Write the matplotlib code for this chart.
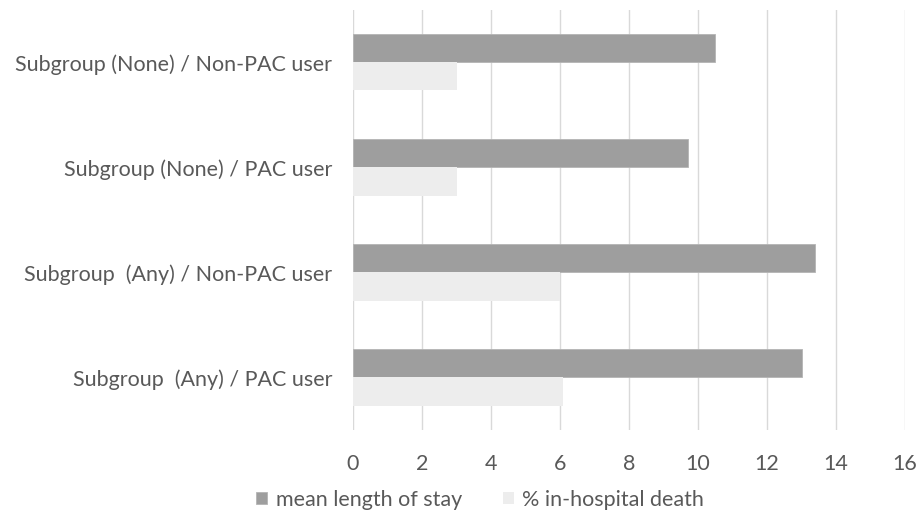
import matplotlib
matplotlib.use("Agg")
import matplotlib.pyplot as plt
import numpy as np

plt.rcParams['font.family'] = ['Lato', 'DejaVu Sans']

categories = [
    "Subgroup (None) / Non-PAC user",
    "Subgroup (None) / PAC user",
    "Subgroup  (Any) / Non-PAC user",
    "Subgroup  (Any) / PAC user",
]
mean_stay = [10.5, 9.7, 13.4, 13.0]
death_pct = [3.0, 3.0, 6.0, 6.1]
series_names = ["mean length of stay", "% in-hospital death"]
x_ticks = [0, 2, 4, 6, 8, 10, 12, 14, 16]

text_color = "#595959"
dark = "#9e9e9e"
light = "#ededed"
fs = 15.5

fig = plt.figure(figsize=(9.2, 5.24), dpi=100)
ax = fig.add_axes([0.3837, 0.1794, 0.6, 0.8016])

y = np.arange(len(categories))
h = 0.267
ax.barh(y - h / 2, mean_stay, height=h, color=dark, edgecolor="#b4b4b4",
        linewidth=0.6, label=series_names[0], zorder=3)
ax.barh(y + h / 2, death_pct, height=h, color=light, edgecolor=light,
        linewidth=0.0, label=series_names[1], zorder=3)

ax.set_ylim(len(categories) - 0.5, -0.5)
ax.set_xlim(0, 16)
ax.set_xticks(x_ticks)
ax.set_xticklabels([str(t) for t in x_ticks])
ax.set_yticks(y)
ax.set_yticklabels(categories)

ax.grid(axis="x", color="#d9d9d9", linewidth=1.0, zorder=0)
for s in ax.spines.values():
    s.set_visible(False)
ax.tick_params(axis="both", length=0, colors=text_color, labelsize=fs)
ax.tick_params(axis="y", pad=15)
ax.tick_params(axis="x", pad=17)

leg = fig.legend(loc="center", bbox_to_anchor=(0.522, 0.046), ncol=2,
                 frameon=False, fontsize=fs, handlelength=0.5,
                 handleheight=0.5, handletextpad=0.4, columnspacing=1.9)
for t in leg.get_texts():
    t.set_color(text_color)

fig.savefig("out.png", dpi=100, facecolor="white")
